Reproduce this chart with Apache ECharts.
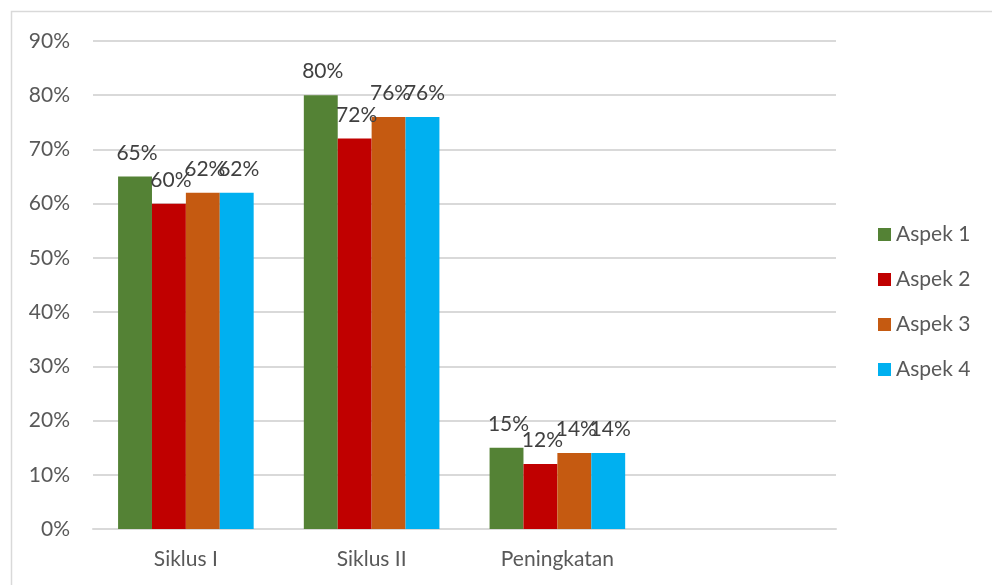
<!DOCTYPE html>
<html>
<head>
<meta charset="utf-8">
<script src="https://cdn.jsdelivr.net/npm/echarts@6/dist/echarts.min.js"></script>
<style>
  html, body { margin: 0; padding: 0; background: #fff; }
  #chart { width: 992px; height: 585px; }
</style>
</head>
<body>
<div id="chart"></div>
<script>
// Categories (the trailing empty slot keeps the axis width of the original layout)
const categories = ['Siklus I', 'Siklus II', 'Peningkatan', ''];
const seriesNames = ['Aspek 1', 'Aspek 2', 'Aspek 3', 'Aspek 4'];
const aspek1 = [65, 80, 15];
const aspek2 = [60, 72, 12];
const aspek3 = [62, 76, 14];
const aspek4 = [62, 76, 14];
const colors = ['#548235', '#C00000', '#C55A11', '#00B0F0'];
const yTicks = { min: 0, max: 90, interval: 10 };

const values = [aspek1, aspek2, aspek3, aspek4];
const font = 'Lato, Carlito, "Open Sans", sans-serif';
const fs = 21;

const chart = echarts.init(document.getElementById('chart'), null, { renderer: 'canvas' });
chart.setOption({
  animation: false,
  backgroundColor: '#ffffff',
  textStyle: { fontFamily: font },
  graphic: [{
    type: 'rect',
    shape: { x: 11.5, y: 11.5, width: 1000, height: 1000 },
    style: { fill: 'none', stroke: '#d9d9d9', lineWidth: 1.5 },
    silent: true
  }],
  grid: { left: 93, right: 156, top: 41, bottom: 56 },
  legend: {
    orient: 'vertical',
    left: 873,
    top: 219,
    itemWidth: 13,
    itemHeight: 13,
    itemGap: 24,
    icon: 'rect',
    data: seriesNames,
    textStyle: { fontSize: fs, color: '#595959', fontFamily: font }
  },
  xAxis: {
    type: 'category',
    data: categories,
    axisTick: { show: false },
    axisLine: { lineStyle: { color: '#d9d9d9', width: 2 } },
    axisLabel: { fontSize: fs, color: '#595959', margin: 20, fontFamily: font }
  },
  yAxis: {
    type: 'value',
    min: yTicks.min,
    max: yTicks.max,
    interval: yTicks.interval,
    axisLine: { show: false },
    axisTick: { show: false },
    splitLine: { lineStyle: { color: '#d9d9d9', width: 2 } },
    axisLabel: { fontSize: fs, color: '#595959', margin: 23, fontFamily: font, formatter: v => v + '%' }
  },
  series: seriesNames.map((name, i) => ({
    name: name,
    type: 'bar',
    data: values[i],
    barGap: '0%',
    barCategoryGap: '27%',
    itemStyle: { color: colors[i] },
    label: {
      show: true,
      position: 'top',
      distance: 13,
      offset: [2, 0],
      fontSize: fs,
      color: '#404040',
      fontFamily: font,
      formatter: p => p.value + '%'
    }
  }))
});
</script>
</body>
</html>
